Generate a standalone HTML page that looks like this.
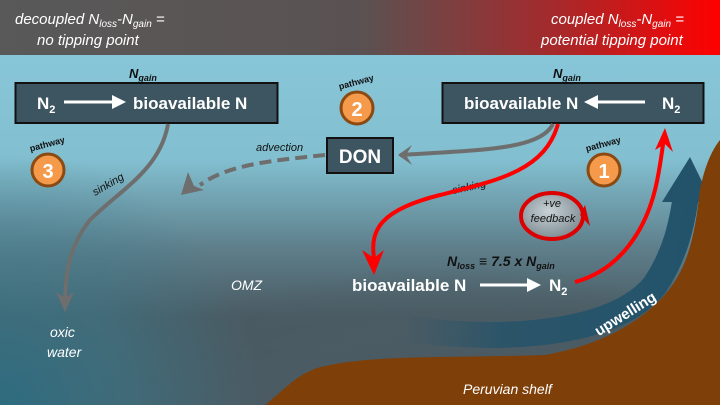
<!DOCTYPE html>
<html><head><meta charset="utf-8"><style>
html,body{margin:0;padding:0;width:720px;height:405px;overflow:hidden}
svg{display:block;position:absolute;left:0;top:0}
text{font-family:"Liberation Sans",sans-serif}
</style></head><body>
<svg width="720" height="405" viewBox="0 0 720 405" xmlns="http://www.w3.org/2000/svg">
<defs>
<linearGradient id="hdr" x1="0" x2="1" y1="0" y2="0">
<stop offset="0" stop-color="#595959"/><stop offset="0.5" stop-color="#5a5252"/><stop offset="0.78" stop-color="#a8282a"/><stop offset="1" stop-color="#ff0000"/>
</linearGradient>
<linearGradient id="sea" x1="0" x2="0" y1="0" y2="1">
<stop offset="0" stop-color="#87c6d8"/><stop offset="0.3" stop-color="#82bfd0"/><stop offset="0.55" stop-color="#5e7f8b"/><stop offset="0.75" stop-color="#4a5a62"/><stop offset="1" stop-color="#46565e"/>
</linearGradient>
<radialGradient id="omz" cx="0.55" cy="0.8" r="0.55">
<stop offset="0" stop-color="#4a5860" stop-opacity="1"/><stop offset="0.6" stop-color="#4c5c64" stop-opacity="0.8"/><stop offset="1" stop-color="#4c5c64" stop-opacity="0"/>
</radialGradient>
<radialGradient id="leftb" cx="0" cy="1" r="1">
<stop offset="0" stop-color="#2a6e82" stop-opacity="0.9"/><stop offset="0.5" stop-color="#3a7d90" stop-opacity="0.5"/><stop offset="1" stop-color="#3a7d90" stop-opacity="0"/>
</radialGradient>
<radialGradient id="bub" cx="0.45" cy="0.4" r="0.6"><stop offset="0" stop-color="#c8d2d6"/><stop offset="1" stop-color="#7f8d93"/></radialGradient>
<linearGradient id="upw" x1="0" x2="1" y1="0" y2="0"><stop offset="0" stop-color="#2a5468" stop-opacity="0"/><stop offset="0.35" stop-color="#24536a" stop-opacity="0.8"/><stop offset="1" stop-color="#22536b"/></linearGradient>
</defs>
<rect x="0" y="55" width="720" height="350" fill="url(#sea)"/>
<ellipse cx="420" cy="340" rx="330" ry="150" fill="url(#omz)"/>
<rect x="0" y="150" width="260" height="255" fill="url(#leftb)"/>
<rect x="0" y="0" width="720" height="55" fill="url(#hdr)"/>
<g font-style="italic" fill="#fff" font-size="15">
<text x="15" y="24">decoupled N<tspan font-size="10" dy="3">loss</tspan><tspan dy="-3">-N</tspan><tspan font-size="10" dy="3">gain</tspan><tspan dy="-3"> =</tspan></text>
<text x="37" y="45">no tipping point</text>
<text x="551" y="24">coupled N<tspan font-size="10" dy="3">loss</tspan><tspan dy="-3">-N</tspan><tspan font-size="10" dy="3">gain</tspan><tspan dy="-3"> =</tspan></text>
<text x="541" y="45">potential tipping point</text>
</g>
<!-- upwelling -->
<path d="M400,328 C520,345 620,330 655,285 C675,255 682,225 686,195" fill="none" stroke="url(#upw)" stroke-width="26"/>
<path d="M662,202 L690,157 L712,202 Z" fill="#22536b"/>
<!-- shelf -->
<path d="M265,405 C290,385 300,370 330,365 C380,355 450,358 545,355 C600,345 635,325 660,300 C690,270 695,230 700,190 C705,165 712,150 720,140 L720,405 Z" fill="#7f3f08"/>
<text x="628" y="318" transform="rotate(-32 628 318)" font-weight="bold" font-size="15" fill="#fff" text-anchor="middle">upwelling</text>
<!-- boxes -->
<rect x="15.5" y="83" width="262" height="40" fill="#3d5560" stroke="#111" stroke-width="2"/>
<rect x="442.5" y="83" width="261" height="40" fill="#3d5560" stroke="#111" stroke-width="2"/>
<rect x="327" y="138" width="66" height="35" fill="#3d5560" stroke="#111" stroke-width="2"/>
<g font-weight="bold" fill="#fff" font-size="17">
<text x="37" y="109">N<tspan font-size="11" dy="4">2</tspan></text>
<text x="133" y="109">bioavailable N</text>
<text x="464" y="109">bioavailable N</text>
<text x="662" y="109">N<tspan font-size="11" dy="4">2</tspan></text>
<text x="360" y="163" text-anchor="middle" font-size="19">DON</text>
<text x="352" y="291">bioavailable N</text>
<text x="549" y="291">N<tspan font-size="11" dy="4">2</tspan></text>
</g>
<g stroke="#fff" stroke-width="3" fill="#fff">
<line x1="64" y1="102" x2="115" y2="102"/><path d="M112,95 L126,102 L112,109 Z" stroke="none"/>
<line x1="595" y1="102" x2="645" y2="102"/><path d="M598,95 L584,102 L598,109 Z" stroke="none"/>
<line x1="480" y1="285" x2="530" y2="285"/><path d="M527,278 L541,285 L527,292 Z" stroke="none"/>
</g>
<g font-weight="bold" font-style="italic" fill="#111" font-size="13">
<text x="129" y="78">N<tspan font-size="9" dy="3">gain</tspan></text>
<text x="553" y="78">N<tspan font-size="9" dy="3">gain</tspan></text>
<text x="447" y="266" font-size="14">N<tspan font-size="9" dy="3">loss</tspan><tspan dy="-3"> ≡ 7.5 x N</tspan><tspan font-size="9" dy="3">gain</tspan></text>
</g>
<!-- gray arrows -->
<path d="M168,124 C160,170 120,190 90,220 C70,245 66,270 65,300" fill="none" stroke="#6e6e6e" stroke-width="4"/>
<path d="M56,292 L65,312 L74,292 L65,298 Z" fill="#6e6e6e"/>
<path d="M553,124 C540,150 480,150 400,155" fill="none" stroke="#6e6e6e" stroke-width="4"/>
<path d="M412,145 L398,155 L412,165 L406,155 Z" fill="#6e6e6e"/>
<path d="M325,155 C280,160 230,163 200,185" fill="none" stroke="#6e6e6e" stroke-width="4" stroke-dasharray="12,6"/>
<path d="M188,172 L181,195 L204,190 L194,186 Z" fill="#6e6e6e"/>
<g font-style="italic" fill="#111" font-size="11">
<text x="256" y="151">advection</text>
<text x="95" y="196" transform="rotate(-30 95 196)">sinking</text>
<text x="453" y="194" transform="rotate(-12 453 194)">sinking</text>
</g>
<!-- red arrows -->
<path d="M558,124 C545,170 500,180 440,195 C380,210 370,230 374,258" fill="none" stroke="#f00" stroke-width="4"/>
<path d="M362,250 L374,275 L384,250 L374,258 Z" fill="#f00"/>
<path d="M575,282 C620,270 645,230 655,190 C660,170 662,150 664,138" fill="none" stroke="#f00" stroke-width="4"/>
<path d="M655,150 L665,128 L673,152 L665,144 Z" fill="#f00"/>
<!-- feedback -->
<ellipse cx="552" cy="216" rx="31" ry="23" fill="url(#bub)" stroke="#d00" stroke-width="4"/>
<path d="M580,215 L590,226 L585,205 Z" fill="#d00"/>
<g font-style="italic" fill="#111" font-size="11" text-anchor="middle"><text x="552" y="207">+ve</text><text x="553" y="222">feedback</text></g>
<!-- pathway circles -->
<g font-weight="bold">
<circle cx="48" cy="170" r="16" fill="#f59a4b" stroke="#8b4a12" stroke-width="3"/>
<text x="48" y="178" text-anchor="middle" fill="#fff" font-size="20">3</text>
<text x="48" y="147" text-anchor="middle" fill="#111" font-size="9" transform="rotate(-15 48 147)">pathway</text>
<circle cx="357" cy="108" r="16" fill="#f59a4b" stroke="#8b4a12" stroke-width="3"/>
<text x="357" y="116" text-anchor="middle" fill="#fff" font-size="20">2</text>
<text x="357" y="85" text-anchor="middle" fill="#111" font-size="9" transform="rotate(-15 357 85)">pathway</text>
<circle cx="604" cy="170" r="16" fill="#f59a4b" stroke="#8b4a12" stroke-width="3"/>
<text x="604" y="178" text-anchor="middle" fill="#fff" font-size="20">1</text>
<text x="604" y="147" text-anchor="middle" fill="#111" font-size="9" transform="rotate(-15 604 147)">pathway</text>
</g>
<g font-style="italic" fill="#fff" font-size="14">
<text x="231" y="290">OMZ</text>
<text x="50" y="337">oxic</text>
<text x="47" y="357">water</text>
<text x="463" y="394">Peruvian shelf</text>
</g>
</svg>
</body></html>
